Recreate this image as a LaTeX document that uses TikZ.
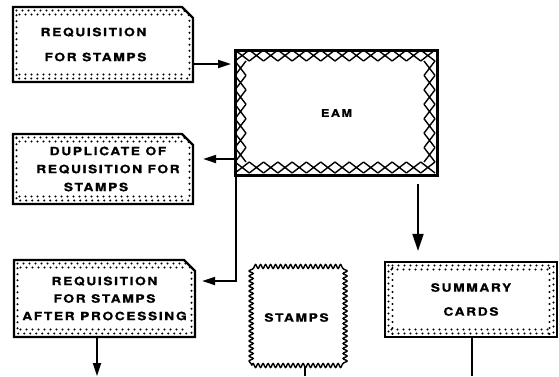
\documentclass[tikz,border=0pt]{standalone}
\usepackage{fontspec}
\newfontfamily\lab[FakeStretch=1.2,LetterSpace=14,FakeBold=0.8]{texgyreheros-bold.otf}
\usetikzlibrary{arrows.meta,shapes.misc,decorations.pathmorphing,calc}
\tikzset{
  lbl/.style={font=\lab\fontsize{11.5}{#1}\selectfont, align=center},
  dots/.style={line width=2.2pt, line cap=round, dash pattern=on 0pt off 6pt},
  cutdots/.style={path picture={
    \draw[dots] let \p1=(path picture bounding box.north west), \p2=(path picture bounding box.south east) in
      (\x1+3.5pt,\y1-3.5pt) -- (\x2-9pt,\y1-3.5pt) -- (\x2-3.5pt,\y1-9pt) -- (\x2-3.5pt,\y2+3.5pt) -- (\x1+3.5pt,\y2+3.5pt) -- cycle
      (\x1+6.5pt,\y1-7.5pt) -- (\x2-11pt,\y1-7.5pt)
      (\x1+6.5pt,\y2+7.5pt) -- (\x2-7pt,\y2+7.5pt);
  }},
  carddots/.style={path picture={
    \draw[dots] let \p1=(path picture bounding box.north west), \p2=(path picture bounding box.south east) in
      (\x1+3.5pt,\y1-3.5pt) rectangle (\x2-3.5pt,\y2+3.5pt)
      (\x1+6.5pt,\y1-7.5pt) -- (\x2-7pt,\y1-7.5pt)
      (\x1+6.5pt,\y2+7.5pt) -- (\x2-7pt,\y2+7.5pt)
      (\x1+7.5pt,\y1+18pt) -- (\x1+7.5pt,\y2-18pt)
      (\x2-7.5pt,\y1+18pt) -- (\x2-7.5pt,\y2-18pt);
  }},
  cutform/.style={chamfered rectangle, chamfered rectangle corners=north east,
    chamfered rectangle xsep=5.5pt, chamfered rectangle ysep=5.5pt,
    draw, line width=2.2pt, inner sep=0pt, cutdots},
  cardform/.style={rectangle, draw, line width=2.2pt, inner sep=0pt, carddots},
  machine/.style={rectangle, draw, line width=3pt, inner sep=0pt,
    font=\lab\fontsize{10.5}{12}\selectfont},
  xline/.style={line width=1.4pt},
  stampform/.style={rectangle, draw, line width=1.4pt, inner sep=0pt, decorate,
    decoration={snake, amplitude=2pt, segment length=5pt}},
  arr/.style={line width=1.9pt, -{Triangle[length=13pt,width=8pt]}},
  bigarr/.style={line width=1.9pt, -{Triangle[length=17pt,width=11pt]}},
  ln/.style={line width=1.9pt}
}
\begin{document}
\begin{tikzpicture}[x=1pt,y=-1pt]
\fill[white] (0,0) rectangle (559,376);
\useasboundingbox (0,0) rectangle (559,376);

\node[cutform, lbl=25, minimum width=180pt, minimum height=75pt] (box1) at (103,44.5)
  {REQUISITION\hspace*{19pt}\\FOR STAMPS\hspace*{15pt}};
\node[cutform, lbl=18, minimum width=180pt, minimum height=70pt] (box2) at (103,169)
  {\hspace*{10pt}DUPLICATE OF\\\hspace*{10pt}REQUISITION FOR\\STAMPS\hspace*{14pt}};
\node[cutform, lbl=17.5, minimum width=181pt, minimum height=77pt] (box3) at (104.5,298.5)
  {REQUISITION\\FOR STAMPS\\AFTER PROCESSING};
\node[cardform, lbl=24, minimum width=172pt, minimum height=75pt] (summary) at (471,299.5)
  {SUMMARY\\CARDS};
\node[machine, minimum width=202pt, minimum height=125pt] (EAM) at (336.5,113) {EAM};
\node[stampform, lbl=12, minimum width=90pt, minimum height=96pt] (stamps) at (296.5,317.5) {STAMPS};

% cross-hatched band of the EAM box
\begin{scope}[shift={(EAM.north west)}]
  \foreach \i in {0,...,13} {
    \draw[xline] (1+\i*14.2857,1) -- (1+\i*14.2857+14.2857,12)
                 (1+\i*14.2857,12) -- (1+\i*14.2857+14.2857,1);
    \draw[xline] (1+\i*14.2857,113) -- (1+\i*14.2857+14.2857,124)
                 (1+\i*14.2857,124) -- (1+\i*14.2857+14.2857,113);
  }
  \foreach \j in {0,...,6} {
    \draw[xline] (1,12+\j*14.4286) -- (12,12+\j*14.4286+14.4286)
                 (12,12+\j*14.4286) -- (1,12+\j*14.4286+14.4286);
    \draw[xline] (190,12+\j*14.4286) -- (201,12+\j*14.4286+14.4286)
                 (201,12+\j*14.4286) -- (190,12+\j*14.4286+14.4286);
  }
\end{scope}

% connectors
\draw[arr, shorten >=3pt] ([yshift=-19.5pt]box1.east) -- ([yshift=-19.5pt]box1.east -| EAM.west);
\draw[arr, shorten >=9pt] ([yshift=-46pt]EAM.west) -- ([yshift=-46pt]EAM.west -| box2.east);
\draw[arr, shorten >=6pt] ([xshift=2pt]EAM.south west) |- ([yshift=17.5pt]box3.east);
\draw[bigarr, shorten <=7pt, shorten >=10pt] ([xshift=81.5pt]EAM.south) -- ([xshift=81.5pt]EAM.south |- summary.north);

\coordinate (out3) at (97,376);
\coordinate (outS) at (305,376);
\coordinate (outC) at (472,376);
\draw[arr] (box3.south -| out3) -- (out3);
\draw[ln] (stamps.south -| outS) -- (outS);
\draw[ln] (summary.south -| outC) -- (outC);
\end{tikzpicture}
\end{document}
